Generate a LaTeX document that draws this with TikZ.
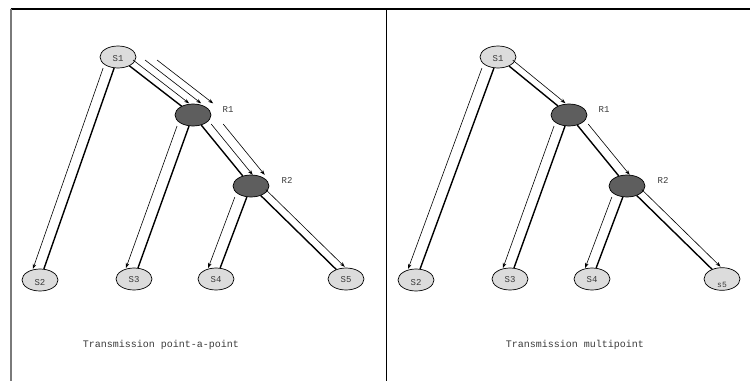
\documentclass[tikz,border=0pt]{standalone}
\usepackage{fontspec}
\setmonofont{Liberation Mono}
\usetikzlibrary{arrows.meta,shapes.geometric}
\definecolor{hostgray}{HTML}{DCDCDC}
\definecolor{routergray}{HTML}{5E5E5E}
\definecolor{labelgray}{HTML}{3A3A3A}
\definecolor{framegray}{HTML}{7A7A7A}
\begin{document}
\begin{tikzpicture}[x=1pt,y=-1pt,
  host/.style={ellipse,draw=black,line width=0.7pt,fill=hostgray,
    minimum width=36pt,minimum height=22pt,inner sep=0pt,
    font=\ttfamily\fontsize{9}{9}\selectfont,text=labelgray,
    text height=6pt,text depth=0pt},
  lowtext/.style={text height=11pt},
  router/.style={ellipse,draw=black,line width=0.7pt,fill=routergray,
    minimum width=36pt,minimum height=22pt,inner sep=0pt},
  rname/.style={font=\ttfamily\fontsize{9}{9}\selectfont,text=labelgray,inner sep=0pt},
  link/.style={line width=1.4pt},
  flow/.style={line width=0.6pt,-{Stealth[length=5pt,width=3.6pt]}},
  steep/.style={shorten <=-3pt,shorten >=-2pt},
  caption/.style={font=\ttfamily\fontsize{10}{10}\selectfont,text=labelgray,inner sep=0pt}
]
\useasboundingbox (0,0) rectangle (750,381);

% frame and divider
\draw[line width=1.3pt] (10.5,9) -- (750,9);
\draw[line width=1.6pt,draw=framegray] (11,9) -- (11,381);
\draw[line width=1.6pt] (386.5,9) -- (386.5,381);

% ---------- point-to-point ----------
\node[host,lowtext,text height=8.5pt] (la1) at (118,57) {S1};
\node[router] (lr1) at (193,115) {};
\node[router] (lr2) at (251,186) {};
\node[host,lowtext] (la2) at (40,280) {S2};
\node[host] (la3) at (134,279) {S3};
\node[host] (la4) at (216,279) {S4};
\node[host] (la5) at (346,279) {S5};
\node[rname] (lr1n) at (228,110) {R1};
\node[rname] (lr2n) at (287,180) {R2};

\draw[link] (la1) -- (la2);
\draw[link] (la1) -- (lr1);
\draw[link] (lr1) -- (la3);
\draw[link] (lr1) -- (lr2);
\draw[link] (lr2) -- (la4);
\draw[link] (lr2) -- (la5);

\draw[flow,transform canvas={shift={(-11,0)}}] (la1) -- (la2);
\draw[flow,steep,transform canvas={shift={(6,-4)}}] (la1) -- (lr1);
\draw[flow,steep,transform canvas={shift={(18,-4)}}] (la1) -- (lr1);
\draw[flow,steep,transform canvas={shift={(30,-4)}}] (la1) -- (lr1);
\draw[flow,transform canvas={shift={(-12,0)}}] (lr1) -- (la3);
\draw[flow,transform canvas={shift={(10,-1)}}] (lr1) -- (lr2);
\draw[flow,transform canvas={shift={(22,-1)}}] (lr1) -- (lr2);
\draw[flow,transform canvas={shift={(-12,0)}}] (lr2) -- (la4);
\draw[flow,shorten >=-5pt,transform canvas={shift={(5,-6)}}] (lr2) -- (la5);

\node[caption] (lcap) at (161,345) {Transmission point-a-point};

% ---------- multipoint ----------
\node[host,lowtext,text height=8.5pt] (ra1) at (498,57) {S1};
\node[router] (rr1) at (569,115) {};
\node[router] (rr2) at (627,186) {};
\node[host,lowtext] (ra2) at (416,280) {S2};
\node[host] (ra3) at (510,279) {S3};
\node[host] (ra4) at (592,279) {S4};
\node[host,text height=16pt,font=\ttfamily\fontsize{8}{8}\selectfont] (ra5) at (722,279) {s5};
\node[rname] (rr1n) at (604,110) {R1};
\node[rname] (rr2n) at (663,180) {R2};

\draw[link] (ra1) -- (ra2);
\draw[link] (ra1) -- (rr1);
\draw[link] (rr1) -- (ra3);
\draw[link] (rr1) -- (rr2);
\draw[link] (rr2) -- (ra4);
\draw[link] (rr2) -- (ra5);

\draw[flow,transform canvas={shift={(-12,0)}}] (ra1) -- (ra2);
\draw[flow,steep,transform canvas={shift={(6,-4)}}] (ra1) -- (rr1);
\draw[flow,transform canvas={shift={(-11,0)}}] (rr1) -- (ra3);
\draw[flow,transform canvas={shift={(11,-1)}}] (rr1) -- (rr2);
\draw[flow,transform canvas={shift={(-11,0)}}] (rr2) -- (ra4);
\draw[flow,shorten >=-5pt,transform canvas={shift={(5,-6)}}] (rr2) -- (ra5);

\node[caption] (rcap) at (575,345) {Transmission multipoint};
\end{tikzpicture}
\end{document}
